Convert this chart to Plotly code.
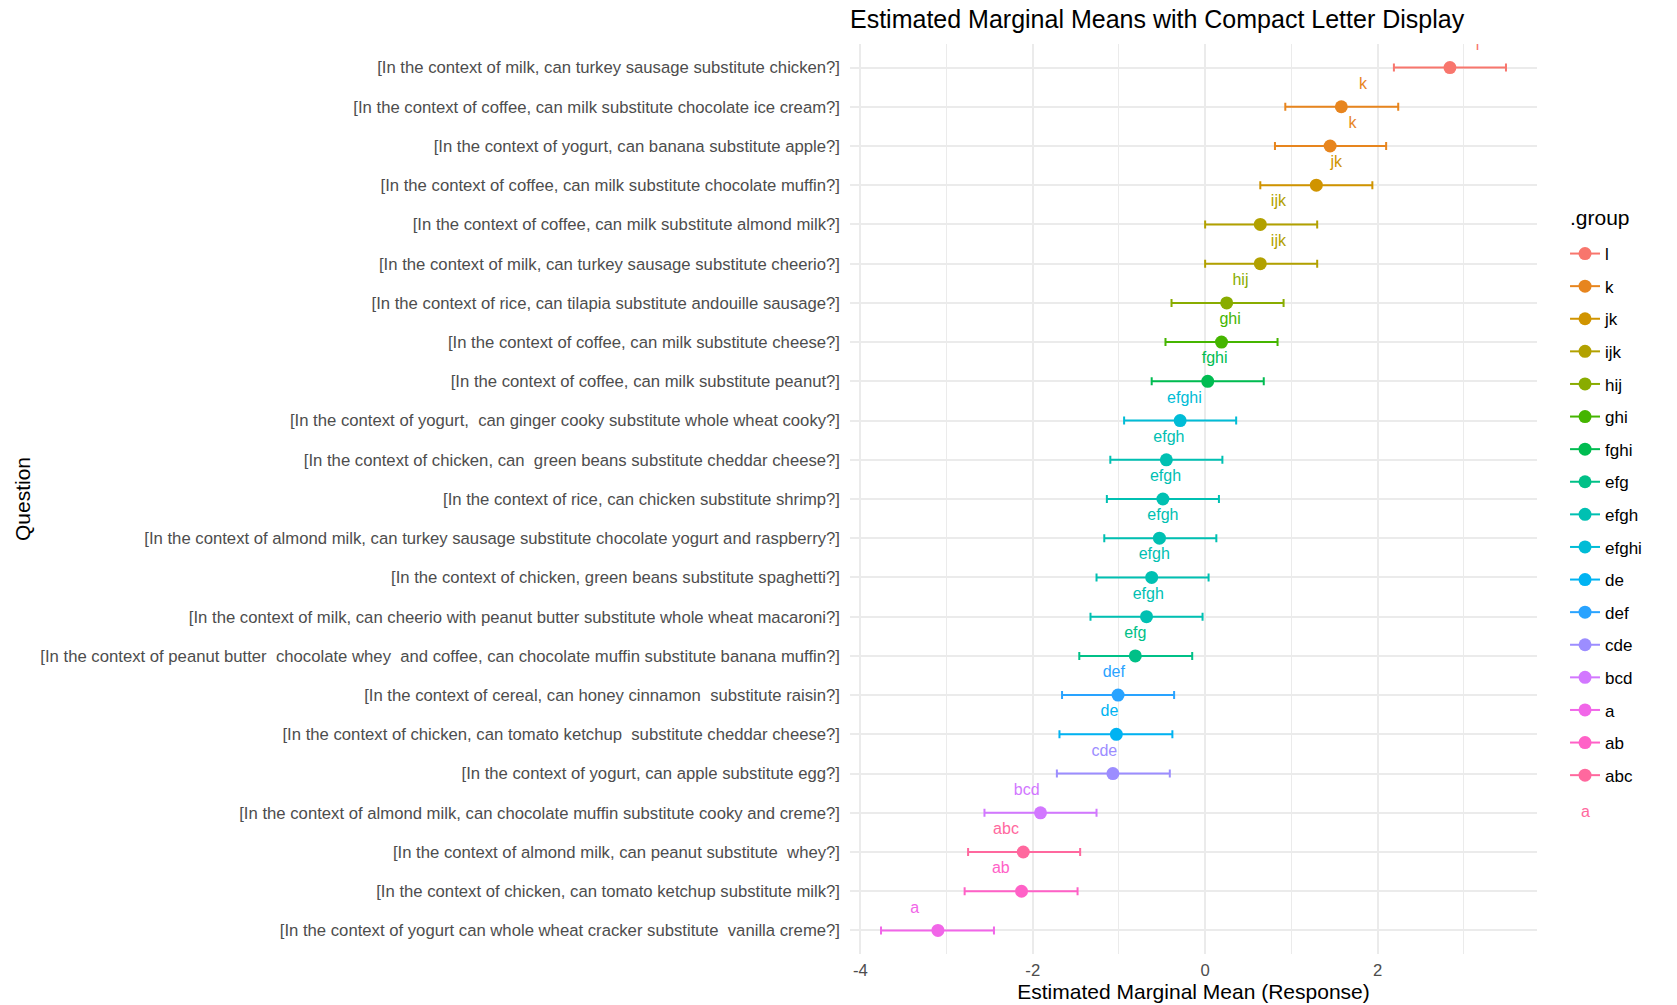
import math
import plotly.graph_objects as go

# Questions, listed top to bottom
questions = [
    "[In the context of milk, can turkey sausage substitute chicken?]",
    "[In the context of coffee, can milk substitute chocolate ice cream?]",
    "[In the context of yogurt, can banana substitute apple?]",
    "[In the context of coffee, can milk substitute chocolate muffin?]",
    "[In the context of coffee, can milk substitute almond milk?]",
    "[In the context of milk, can turkey sausage substitute cheerio?]",
    "[In the context of rice, can tilapia substitute andouille sausage?]",
    "[In the context of coffee, can milk substitute cheese?]",
    "[In the context of coffee, can milk substitute peanut?]",
    "[In the context of yogurt,  can ginger cooky substitute whole wheat cooky?]",
    "[In the context of chicken, can  green beans substitute cheddar cheese?]",
    "[In the context of rice, can chicken substitute shrimp?]",
    "[In the context of almond milk, can turkey sausage substitute chocolate yogurt and raspberry?]",
    "[In the context of chicken, green beans substitute spaghetti?]",
    "[In the context of milk, can cheerio with peanut butter substitute whole wheat macaroni?]",
    "[In the context of peanut butter  chocolate whey  and coffee, can chocolate muffin substitute banana muffin?]",
    "[In the context of cereal, can honey cinnamon  substitute raisin?]",
    "[In the context of chicken, can tomato ketchup  substitute cheddar cheese?]",
    "[In the context of yogurt, can apple substitute egg?]",
    "[In the context of almond milk, can chocolate muffin substitute cooky and creme?]",
    "[In the context of almond milk, can peanut substitute  whey?]",
    "[In the context of chicken, can tomato ketchup substitute milk?]",
    "[In the context of yogurt can whole wheat cracker substitute  vanilla creme?]",
]

emmean = [2.84, 1.58, 1.45, 1.29, 0.64, 0.64, 0.25, 0.19, 0.03, -0.29, -0.45, -0.49,
          -0.53, -0.62, -0.68, -0.81, -1.01, -1.03, -1.07, -1.91, -2.11, -2.13, -3.10]
lower_cl = [2.19, 0.93, 0.81, 0.64, 0.00, 0.00, -0.39, -0.46, -0.62, -0.94, -1.10, -1.14,
            -1.17, -1.26, -1.33, -1.46, -1.66, -1.69, -1.72, -2.56, -2.75, -2.79, -3.76]
upper_cl = [3.49, 2.24, 2.10, 1.94, 1.30, 1.30, 0.91, 0.84, 0.68, 0.36, 0.20, 0.16,
            0.13, 0.04, -0.03, -0.15, -0.36, -0.38, -0.41, -1.26, -1.45, -1.48, -2.45]
cld_group = ["l", "k", "k", "jk", "ijk", "ijk", "hij", "ghi", "fghi", "efghi", "efgh", "efgh",
             "efgh", "efgh", "efgh", "efg", "def", "de", "cde", "bcd", "abc", "ab", "a"]
# horizontal placement of the letter labels
label_x = [3.16, 1.83, 1.71, 1.52, 0.85, 0.85, 0.41, 0.29, 0.11, -0.24, -0.42, -0.46,
           -0.49, -0.59, -0.66, -0.81, -1.06, -1.11, -1.17, -2.07, -2.31, -2.37, -3.37]

# legend / colour order of the groups
group_levels = ["l", "k", "jk", "ijk", "hij", "ghi", "fghi", "efg", "efgh", "efghi",
                "de", "def", "cde", "bcd", "a", "ab", "abc"]

x_ticks = [-4, -2, 0, 2]


def hcl_hex(h, c=100.0, l=65.0):
    """Polar LUV (HCL) to sRGB hex, D65 white."""
    hr = math.radians(h)
    u, v = c * math.cos(hr), c * math.sin(hr)
    y = ((l + 16.0) / 116.0) ** 3
    un, vn = 0.1978398, 0.4683363
    up = u / (13.0 * l) + un
    vp = v / (13.0 * l) + vn
    x = 9.0 * y * up / (4.0 * vp)
    z = y * (12.0 - 3.0 * up - 20.0 * vp) / (4.0 * vp)
    rgb = [3.240479 * x - 1.537150 * y - 0.498535 * z,
           -0.969256 * x + 1.875992 * y + 0.041556 * z,
           0.055648 * x - 0.204043 * y + 1.057311 * z]
    out = []
    for ch in rgb:
        ch = 12.92 * ch if ch <= 0.0031308 else 1.055 * ch ** (1 / 2.4) - 0.055
        out.append(int(round(min(max(ch, 0.0), 1.0) * 255)))
    return "#%02X%02X%02X" % tuple(out)


n_lv = len(group_levels)
palette = {g: hcl_hex(15 + 360.0 * i / n_lv) for i, g in enumerate(group_levels)}

n = len(questions)
ypos = [n - i for i in range(n)]  # top row has the largest position

FONT = "Liberation Sans, Arial, Helvetica, sans-serif"
GRID = "#EBEBEB"

fig = go.Figure()

for g in group_levels:
    idx = [i for i in range(n) if cld_group[i] == g]
    xs, ys, ep, em = [], [], [], []
    for k, i in enumerate(idx):
        if k > 0:
            xs.append(None); ys.append(None); ep.append(None); em.append(None)
        xs.append(emmean[i])
        ys.append(ypos[i])
        ep.append(upper_cl[i] - emmean[i])
        em.append(emmean[i] - lower_cl[i])
    col = palette[g]
    fig.add_trace(go.Scatter(
        x=xs, y=ys, mode="lines+markers", name=g, legendgroup=g,
        connectgaps=False,
        line=dict(color=col, width=2),
        marker=dict(color=col, size=13, line=dict(width=0)),
        error_x=dict(type="data", symmetric=False, array=ep, arrayminus=em,
                     color=col, thickness=2, width=4),
        cliponaxis=True,
    ))

fig.add_trace(go.Scatter(
    x=label_x, y=[p + 0.56 for p in ypos], mode="text", text=cld_group,
    textposition="middle center",
    textfont=dict(family=FONT, size=16, color=[palette[g] for g in cld_group]),
    showlegend=False, cliponaxis=True, hoverinfo="skip",
))

# legend heading
fig.add_annotation(
    xref="paper", yref="paper", x=1.0455, y=(954 - 217) / 910, text=".group",
    showarrow=False, xanchor="left", yanchor="middle",
    font=dict(family=FONT, size=21, color="#000000"),
)
# text-key entry below the legend
fig.add_annotation(
    xref="paper", yref="paper", x=1.07, y=0.157, text="a", showarrow=False,
    font=dict(family=FONT, size=16, color=palette["abc"]),
    xanchor="center", yanchor="middle",
)

fig.update_layout(
    width=1677, height=1005,
    margin=dict(l=850, r=140, t=44, b=51, autoexpand=False),
    paper_bgcolor="white", plot_bgcolor="white",
    font=dict(family=FONT, size=16, color="#000000"),
    title=dict(text="Estimated Marginal Means with Compact Letter Display",
               x=850 / 1677, xanchor="left", y=1 - 19.5 / 1005, yanchor="middle",
               font=dict(family=FONT, size=25, color="#000000")),
    showlegend=True,
    legend=dict(
        x=1.0408, xanchor="left", y=(954 - 236) / 910, yanchor="top",
        font=dict(family=FONT, size=17, color="#000000"),
        traceorder="grouped", tracegroupgap=7.5, bgcolor="rgba(0,0,0,0)",
        itemclick=False, itemdoubleclick=False,
    ),
    xaxis=dict(
        range=[-4.12, 3.85], tickvals=x_ticks, ticktext=[str(t) for t in x_ticks],
        showgrid=True, gridcolor=GRID, gridwidth=2, zeroline=False,
        showline=False, ticks="", ticklabelstandoff=4,
        tickfont=dict(family=FONT, size=16.7, color="#4D4D4D"),
        minor=dict(tickvals=[-3, -1, 1, 3], showgrid=True, gridcolor=GRID, gridwidth=1),
        title=dict(text="Estimated Marginal Mean (Response)", standoff=4,
                   font=dict(family=FONT, size=21, color="#000000")),
    ),
    yaxis=dict(
        range=[0.4, n + 0.6], tickvals=ypos, ticktext=questions,
        showgrid=True, gridcolor=GRID, gridwidth=2, zeroline=False,
        showline=False, ticks="", ticklabelstandoff=9,
        tickfont=dict(family=FONT, size=16.7, color="#4D4D4D"),
        title=dict(text="Question", standoff=3,
                   font=dict(family=FONT, size=21, color="#000000")),
    ),
)

fig.write_html("out.html")
